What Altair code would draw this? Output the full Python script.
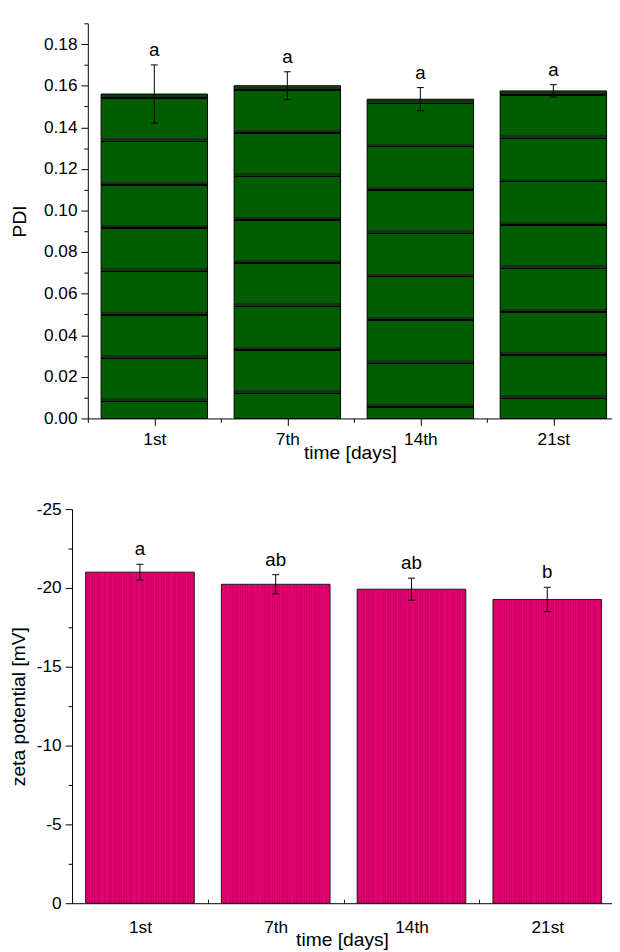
import json
import altair as alt
import pandas as pd

# ---------------- data ----------------
days = ["1st", "7th", "14th", "21st"]
pdi_mean = [0.156, 0.160, 0.1535, 0.1575]
pdi_sd = [0.014, 0.0067, 0.0056, 0.003]
pdi_letters = ["a", "a", "a", "a"]
zeta_mean = [-21.0, -20.23, -19.92, -19.27]
zeta_sd = [0.5, 0.61, 0.7, 0.77]
zeta_letters = ["a", "ab", "ab", "b"]

# ---------------- style ----------------
FONT = "Liberation Sans"
LABEL_FS = 17.5
TITLE_FS = 19.5
LETTER_FS = 19
W = 548
H_TOP = 401
H_BOT = 400
TOP_STEP = 135.0
BOT_STEP = 137.8
TOP_X0 = 16
PDI_MAX = 0.19
HALF = 0.4
CAP = 0.026
GREEN = "#005e00"
GREEN_DOT = "#143514"
GREEN_LINE = "#000000"
PINK = "#e3006f"
PINK_STRIPE = "#cc0064"

days_js = json.dumps(days)
x_label_expr = f"{days_js}[datum.value - 1]"
x_major = [1, 2, 3, 4]
x_minor = [0.5, 1.5, 2.5, 3.5]

top_df = pd.DataFrame({"pos": list(range(1, 5)), "day": days, "mean": pdi_mean,
                       "sd": pdi_sd, "letter": pdi_letters})
bot_df = pd.DataFrame({"pos": list(range(1, 5)), "day": days, "mean": zeta_mean,
                       "sd": zeta_sd, "letter": zeta_letters})


def calc(ch):
    return ch.transform_calculate(
        lo="datum.mean - datum.sd", hi="datum.mean + datum.sd",
        xl=f"datum.pos - {HALF}", xr=f"datum.pos + {HALF}",
        cl=f"datum.pos - {CAP}", cr=f"datum.pos + {CAP}")


def minor_axis(values, orient, offset=0):
    return alt.Axis(values=values, orient=orient, offset=offset, labels=False, domain=False,
                    title=None, grid=False, tickSize=4)


# ---------------- top chart ----------------
top_xscale = alt.Scale(domain=[0.5, 0.5 + (W - TOP_X0) / TOP_STEP], range=[TOP_X0, W],
                       zero=False, nice=False)
top_yscale = alt.Scale(domain=[0, PDI_MAX], zero=False, nice=False)

top_y_major = [round(i * 0.02, 2) for i in range(10)]
top_y_minor = [round(0.01 + i * 0.02, 2) for i in range(10)]
top_x_axis = alt.Axis(values=x_major, labelExpr=x_label_expr, title="time [days]", orient="bottom",
                      tickSize=7, labelPadding=5, titlePadding=-4, labelFlush=False,
                      labelOverlap=False, grid=False)
top_y_axis = alt.Axis(values=top_y_major, offset=-TOP_X0, title="PDI", orient="left",
                      format=".2f", tickSize=7, labelPadding=4, titlePadding=14,
                      labelFlush=False, labelOverlap=False, grid=False)


def green_gradient(h):
    stops = [alt.GradientStop(offset=0, color=GREEN)]
    k = 0
    while True:
        s = 1.0 + 44.0 * k
        if s + 4.8 > h:
            break
        a, b, c = s / h, (s + 2.4) / h, (s + 3.9) / h
        stops += [alt.GradientStop(offset=a, color=GREEN),
                  alt.GradientStop(offset=a, color=GREEN_DOT),
                  alt.GradientStop(offset=b, color=GREEN_DOT),
                  alt.GradientStop(offset=b, color=GREEN_LINE),
                  alt.GradientStop(offset=c, color=GREEN_LINE),
                  alt.GradientStop(offset=c, color=GREEN)]
        k += 1
    stops.append(alt.GradientStop(offset=1, color=GREEN))
    return alt.Gradient(gradient="linear", stops=stops, x1=0, x2=0, y1=0, y2=1)


top_base = calc(alt.Chart(top_df))
top_layers = []
for i, v in enumerate(pdi_mean):
    h = v / PDI_MAX * H_TOP
    first = i == 0
    layer = top_base.transform_filter(f"datum.pos == {i + 1}").mark_rect(
        fill=green_gradient(h), stroke="black", strokeWidth=1).encode(
        x=alt.X("xl:Q", scale=top_xscale, axis=top_x_axis if first else None),
        x2="xr:Q",
        y=alt.Y("mean:Q", scale=top_yscale, axis=top_y_axis if first else None),
        y2=alt.datum(0))
    top_layers.append(layer)

top_err = top_base.mark_rule(color="black", strokeWidth=1).encode(
    x=alt.X("pos:Q", scale=top_xscale, axis=minor_axis(x_minor, "bottom")),
    y=alt.Y("lo:Q", scale=top_yscale,
            axis=minor_axis(top_y_minor, "left", -TOP_X0)), y2="hi:Q")
top_caps = top_base.transform_fold(["lo", "hi"], as_=["end", "yv"]).mark_rule(
    color="black", strokeWidth=1).encode(
    x=alt.X("cl:Q", scale=top_xscale, axis=None), x2="cr:Q",
    y=alt.Y("yv:Q", scale=top_yscale, axis=None))
top_text = top_base.mark_text(font=FONT, fontSize=LETTER_FS, baseline="alphabetic",
                              dy=-9, color="black").encode(
    x=alt.X("pos:Q", scale=top_xscale, axis=None),
    y=alt.Y("hi:Q", scale=top_yscale, axis=None), text="letter:N")

top_chart = alt.layer(*top_layers, top_err, top_caps, top_text).resolve_axis(
    x="independent", y="independent").properties(width=W, height=H_TOP)

# ---------------- bottom chart ----------------
bot_xscale = alt.Scale(domain=[0.5, 0.5 + W / BOT_STEP], zero=False, nice=False)
bot_yscale = alt.Scale(domain=[0, -25], zero=False, nice=False)

bar_w = 2 * HALF * BOT_STEP
pstops = [alt.GradientStop(offset=0, color=PINK)]
x = 1.2
while x + 0.9 < bar_w:
    a, b = x / bar_w, (x + 0.9) / bar_w
    pstops += [alt.GradientStop(offset=a, color=PINK), alt.GradientStop(offset=a, color=PINK_STRIPE),
               alt.GradientStop(offset=b, color=PINK_STRIPE), alt.GradientStop(offset=b, color=PINK)]
    x += 2.5
pstops.append(alt.GradientStop(offset=1, color=PINK))
pink_grad = alt.Gradient(gradient="linear", stops=pstops, x1=0, x2=1, y1=0, y2=0)

bot_y_major = [-25, -20, -15, -10, -5, 0]
bot_y_minor = [-22.5, -17.5, -12.5, -7.5, -2.5]
bot_x_axis = alt.Axis(values=x_major, labelExpr=x_label_expr, title="time [days]", orient="bottom",
                      ticks=False, labelPadding=16, titlePadding=-6, labelFlush=False,
                      labelOverlap=False, grid=False)
bot_tick_axis = alt.Axis(values=x_major, orient="top", offset=-H_BOT, labels=False,
                         domain=False, title=None, grid=False, tickSize=7)
bot_y_axis = alt.Axis(values=bot_y_major, title="zeta potential [mV]", orient="left",
                      labelExpr="'' + datum.value", tickSize=7,
                      labelPadding=4, titlePadding=8, labelFlush=False, labelOverlap=False,
                      grid=False)

bot_base = calc(alt.Chart(bot_df))
bot_bars = bot_base.mark_rect(fill=pink_grad, stroke="#1a1a1a", strokeWidth=1).encode(
    x=alt.X("xl:Q", scale=bot_xscale, axis=bot_x_axis), x2="xr:Q",
    y=alt.Y("mean:Q", scale=bot_yscale, axis=bot_y_axis), y2=alt.datum(0))
bot_err = bot_base.mark_rule(color="black", strokeWidth=1).encode(
    x=alt.X("pos:Q", scale=bot_xscale, axis=bot_tick_axis),
    y=alt.Y("lo:Q", scale=bot_yscale, axis=minor_axis(bot_y_minor, "left")), y2="hi:Q")
bot_caps = bot_base.transform_fold(["lo", "hi"], as_=["end", "yv"]).mark_rule(
    color="black", strokeWidth=1).encode(
    x=alt.X("cl:Q", scale=bot_xscale, axis=minor_axis(x_minor, "top", -H_BOT)), x2="cr:Q",
    y=alt.Y("yv:Q", scale=bot_yscale, axis=None))
bot_text = bot_base.mark_text(font=FONT, fontSize=LETTER_FS, baseline="alphabetic",
                              dy=-9, color="black").encode(
    x=alt.X("pos:Q", scale=bot_xscale, axis=None),
    y=alt.Y("lo:Q", scale=bot_yscale, axis=None), text="letter:N")

bot_chart = alt.layer(bot_bars, bot_err, bot_caps, bot_text).resolve_axis(
    x="independent", y="independent").properties(width=W, height=H_BOT)

chart = alt.vconcat(top_chart, bot_chart, spacing=39).properties(
    padding={"left": 0, "top": 7.5, "right": 0, "bottom": 0}
).configure_view(stroke=None).configure_axis(
    labelFont=FONT, titleFont=FONT, labelFontSize=LABEL_FS, titleFontSize=TITLE_FS,
    labelColor="black", titleColor="black", domainColor="black", tickColor="black",
    titleFontWeight="normal", domainWidth=1, tickWidth=1)

chart.save("out.html", embed_options={"renderer": "svg", "actions": False})
